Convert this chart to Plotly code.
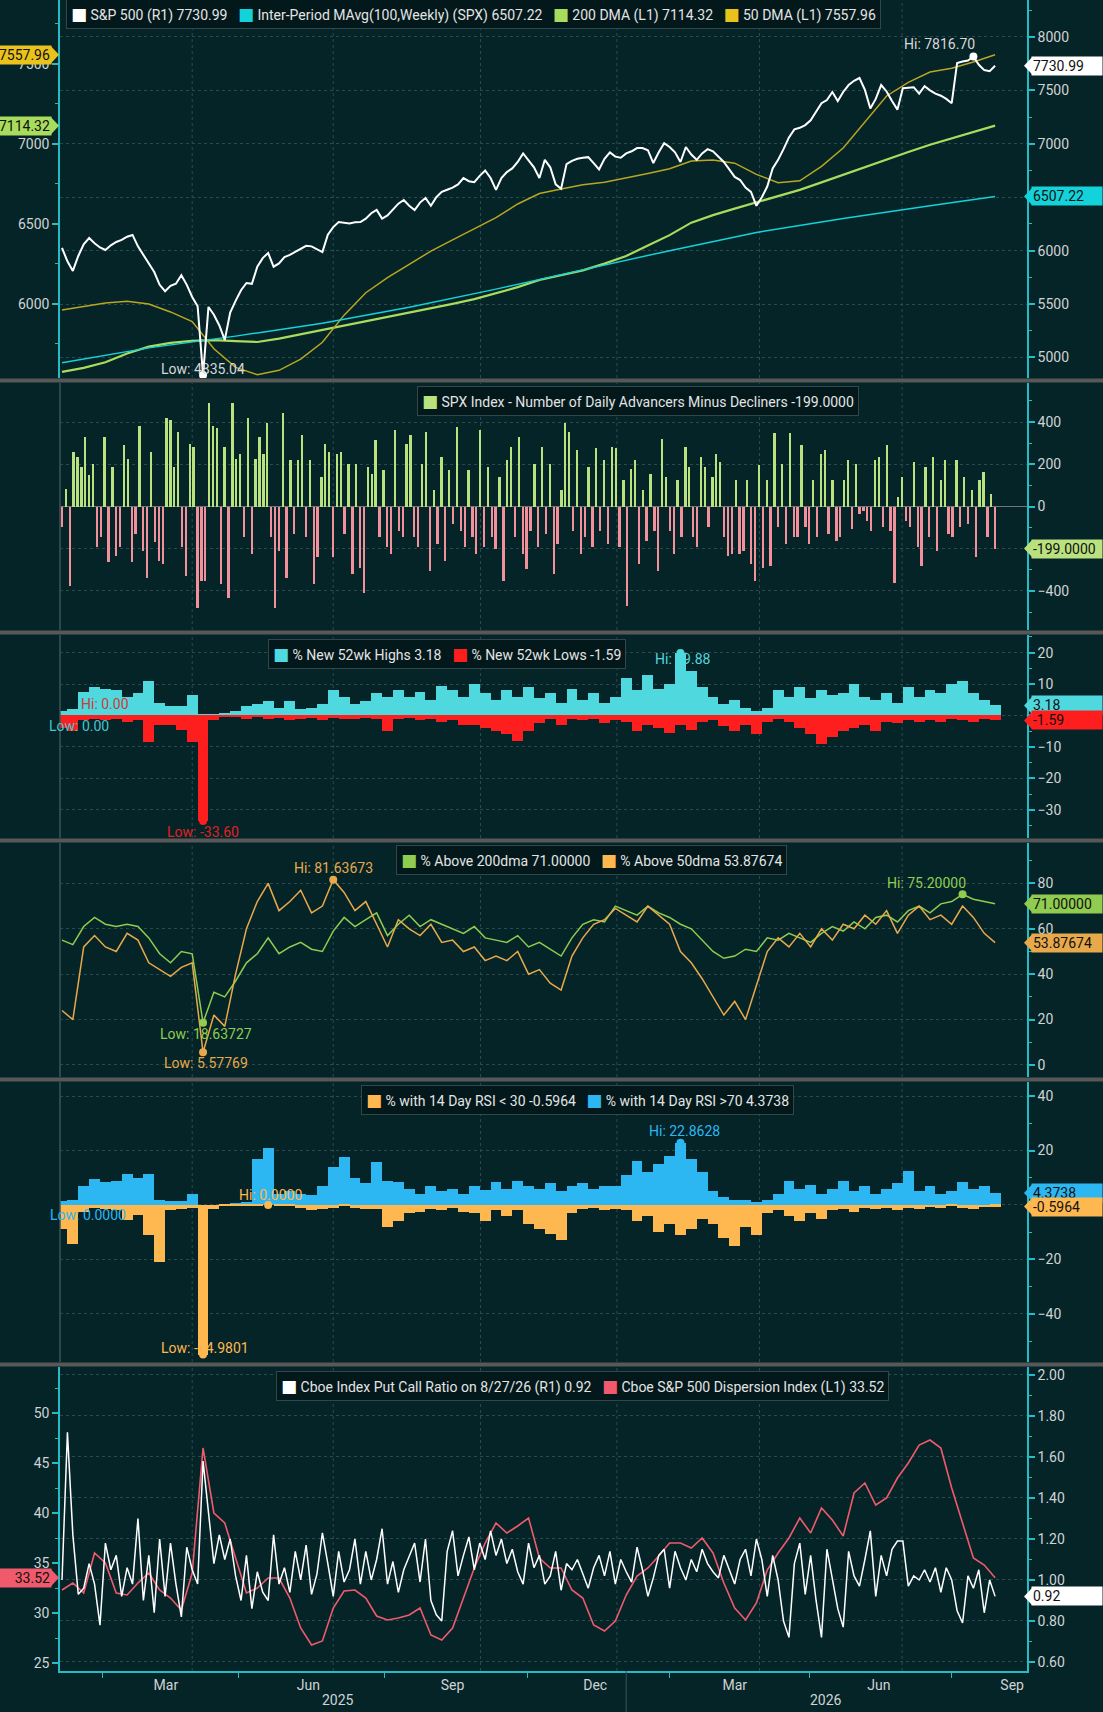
import plotly.graph_objects as go
import pandas as pd

# ---------------- data ----------------
WEEKS = pd.date_range("2025-01-02", periods=87, freq="7D")
HALF_WEEKS = pd.date_range("2025-01-02", "2026-08-27", periods=173)

SPX = [6025, 5900, 5810, 5950, 6060, 6118, 6070, 6030, 6006, 6050,
       6081, 6100, 6130, 6147, 6040, 5960, 5880, 5800, 5680, 5620,
       5670, 5690, 5770, 5680, 5566, 5480, 4835.04, 5473, 5400, 5300,
       5164, 5420, 5530, 5630, 5697, 5690, 5850, 5930, 5978, 5850,
       5880, 5940, 5960, 5990, 6015, 6045, 6040, 6010, 5987, 6150,
       6220, 6268, 6262, 6255, 6265, 6268, 6300, 6350, 6381, 6300,
       6330, 6390, 6440, 6474, 6420, 6380, 6450, 6493, 6420, 6500,
       6550, 6570, 6590, 6620, 6680, 6650, 6640, 6700, 6750, 6680,
       6568, 6680, 6735, 6770, 6830, 6910, 6850, 6780, 6680, 6850,
       6780, 6620, 6580, 6810, 6840, 6860, 6870, 6875, 6820, 6760,
       6860, 6920, 6880, 6870, 6910, 6930, 6960, 6960, 6940, 6820,
       6920, 7005, 6970, 6920, 6830, 6970, 6900, 6850, 6910, 6950,
       6930, 6880, 6830, 6760, 6690, 6661, 6590, 6550, 6420, 6500,
       6600, 6770, 6850, 6950, 7060, 7135, 7150, 7175, 7220, 7300,
       7380, 7410, 7485, 7400, 7485, 7550, 7590, 7616, 7504, 7330,
       7420, 7550, 7490, 7400, 7320, 7520, 7525, 7530, 7470, 7540,
       7500, 7470, 7450, 7420, 7380, 7757, 7770, 7780, 7816.70, 7740,
       7690, 7680, 7730.99]

MA100_DATES = ["2025-01-02", "2025-02-27", "2025-04-24", "2025-06-19", "2025-08-14", "2025-10-09",
               "2025-12-04", "2026-01-29", "2026-03-26", "2026-05-21", "2026-07-16", "2026-08-27"]
MA100 = [4950, 5090, 5200, 5320, 5470, 5640, 5820, 6000, 6170, 6300, 6420, 6507.22]

DMA50 = [5962, 5985, 6006, 6017, 6000, 5950, 5890, 5720, 5603, 5558,
         5585, 5655, 5760, 5930, 6070, 6165, 6245, 6330, 6400, 6468,
         6540, 6625, 6690, 6718, 6745, 6760, 6786, 6815, 6845, 6893,
         6900, 6880, 6810, 6758, 6770, 6860, 6975, 7140, 7300, 7385,
         7450, 7474, 7512, 7557.96]
DMA200 = [5575, 5600, 5635, 5690, 5733, 5757, 5770, 5774, 5767, 5762,
          5783, 5810, 5835, 5862, 5890, 5919, 5945, 5972, 6000, 6030,
          6066, 6105, 6150, 6180, 6210, 6252, 6300, 6365, 6430, 6508,
          6555, 6596, 6636, 6673, 6713, 6760, 6808, 6856, 6905, 6950,
          6995, 7035, 7075, 7114.32]

ADV_DEC = [-98, 84, -376, 259, 235, 187, 330, 148, 203, -194, -146, 330, -265, 187, -233, -194, 290, 227, -265,
           -130, 381, -210, -337, 259, -170, -257, -273, 417, 410, 187, 354, -194, -329, 298, 283, -479, -352, -352,
           489, 381, 370, -368, 283, -432, 489, 227, 251, -146, 417, -225, 227, 330, 251, 397, -146, -479, -210,
           444, -337, 219, -130, 219, 338, -146, 219, -368, -241, 140, 298, 259, -241, 251, 259, -130, 203, -321,
           203, -289, -408, 187, 156, 314, -146, 171, -194, -225, 362, -114, -146, 298, 338, -146, -194, 203, 354,
           -305, 76, -178, 235, -257, 171, -83, 378, -114, -194, 171, -146, -225, 362, -194, 187, -146, -202, 140,
           -352, 219, 283, -146, 330, -225, -297, -114, 203, -194, 283, -130, 203, -321, -178, 76, 394, 354, -114,
           267, -225, -146, 187, -194, 275, -114, 219, -178, 283, 275, -194, 124,
           -471, 179, 219, -273, 76, -162, 156, -114, -305, 322, 140, -114, -225, 124, -146, 283, 187, -146, -194,
           235, 187, -98, 140, 251, 211, -146, -233, -225, 124, -225, -210, 124, -273, -352, 195, -289, 124, -281,
           346, -98, 203, -178, 346, -146, -146, 290, -98, -178, 124, -146, 251, 267, -130, 124, -162, -146, 124,
           219, -106, 203, -35, -19, -67, -114, 219, 235, -98, 290, -114, -360, 44, 140, -67, -98, 211, -194, -281,
           187, -146, 235, -210, 124, 219, -130, -146, 219, -98, 140, -83, 76, -241, 124, 163, -146, 60, -199]

HIGHS = [1.5, 2.0, 7.5, 9.0, 8.5, 8.0, 6.0, 7.0, 11.0, 4.0,
         3.0, 3.0, 6.5, 0.5, 0.5, 0.8, 1.5, 3.0, 3.5, 4.5,
         2.5, 4.5, 2.0, 2.5, 3.5, 8.0, 6.0, 3.5, 4.5, 7.0,
         6.0, 8.0, 6.0, 7.5, 5.0, 9.5, 8.0, 6.0, 10.0, 7.0,
         5.0, 8.0, 6.0, 9.0, 5.5, 7.0, 4.0, 8.5, 5.0, 7.0,
         4.0, 6.0, 12.0, 8.0, 13.0, 8.5, 10.0, 19.88, 14.0, 9.0,
         6.0, 3.5, 5.0, 2.5, 1.5, 2.5, 8.0, 6.0, 9.0, 5.5,
         8.0, 6.5, 7.0, 10.0, 6.0, 5.0, 7.0, 4.0, 9.0, 6.0,
         8.0, 7.0, 10.0, 11.0, 7.0, 5.0, 3.18]
LOWS = [-4.0, -5.0, -1.5, -1.0, -1.5, -1.0, -2.0, -1.5, -8.5, -3.0,
        -3.0, -4.5, -8.5, -33.60, -1.5, -0.5, -0.5, -1.0, -0.5, -1.0,
        -0.8, -1.5, -1.0, -0.8, -1.5, -0.8, -1.0, -1.2, -0.8, -1.0,
        -4.8, -1.0, -0.8, -1.5, -1.0, -2.0, -1.5, -3.0, -3.0, -4.0,
        -5.0, -6.0, -8.0, -5.0, -2.5, -1.0, -3.0, -1.0, -1.5, -1.0,
        -2.5, -1.5, -2.0, -5.0, -3.0, -4.0, -5.5, -3.0, -4.5, -2.0,
        -1.5, -3.5, -5.0, -3.0, -6.0, -2.0, -1.0, -2.0, -4.0, -6.0,
        -9.0, -7.0, -5.0, -4.0, -3.0, -5.0, -2.0, -2.5, -1.5, -2.0,
        -1.5, -2.0, -1.0, -1.5, -2.0, -1.0, -1.59]

PCT200 = [55, 53, 61, 65, 62, 61, 62, 61, 56, 49,
          45, 50, 49, 18.63727, 32, 30, 37, 45, 49, 56,
          49, 52, 54, 51, 50, 59, 65, 61, 64, 67,
          57, 62, 66, 61, 64, 62, 60, 58, 61, 56,
          55, 54, 57, 52, 54, 51, 48, 56, 62, 64,
          63, 70, 68, 66, 70, 67, 65, 62, 60, 55,
          50, 47, 48, 51, 50, 56, 55, 58, 56, 54,
          58, 61, 59, 63, 60, 65, 66, 63, 68, 70,
          67, 71, 72, 75.2, 73, 72, 71.0]
PCT50 = [24, 20, 52, 57, 52, 50, 58, 55, 45, 42,
         39, 43, 45, 5.57769, 22, 17, 40, 60, 72, 80,
         68, 72, 77, 67, 70, 81.63673, 76, 68, 72, 62,
         52, 64, 60, 57, 62, 54, 55, 50, 52, 46,
         48, 46, 50, 40, 42, 36, 33, 48, 56, 62,
         64, 69, 66, 63, 70, 66, 62, 50, 45, 38,
         30, 22, 28, 20, 35, 50, 56, 52, 58, 52,
         60, 55, 62, 60, 66, 62, 68, 58, 66, 70,
         64, 66, 62, 70, 65, 58, 53.87674]

RSI70 = [1.5, 2.0, 7.0, 9.5, 8.5, 9.0, 11.5, 10.0, 11.5, 2.0,
         1.5, 1.5, 4.0, 0.0, 0.0, 0.2, 0.5, 1.0, 17.0, 20.8,
         4.0, 5.0, 4.0, 3.5, 7.0, 14.0, 17.5, 10.0, 8.0, 15.9,
         9.0, 8.5, 6.0, 4.0, 7.0, 5.0, 6.0, 4.0, 7.0, 5.5,
         8.5, 6.0, 9.0, 7.0, 6.0, 8.0, 5.0, 7.0, 8.0, 6.0,
         7.0, 7.0, 11.0, 16.0, 12.0, 15.0, 18.0, 22.8628, 17.0, 12.0,
         5.0, 3.0, 2.0, 2.0, 1.0, 2.0, 4.0, 9.0, 6.0, 7.5,
         4.0, 6.0, 9.0, 5.0, 7.0, 4.0, 6.0, 8.0, 12.5, 5.0,
         7.0, 4.0, 5.0, 8.5, 6.0, 7.0, 4.3738]
RSI30 = [-9.0, -14.5, -2.5, -1.0, -1.5, -2.0, -5.5, -3.5, -11.0, -20.8,
         -2.0, -1.5, -1.0, -54.9801, -1.5, -0.5, -0.3, -0.2, -0.1, 0.0,
         -0.3, -0.5, -1.0, -2.0, -1.5, -1.0, -0.5, -1.0, -1.5, -1.5,
         -8.0, -6.0, -3.0, -2.5, -1.5, -2.0, -1.0, -2.5, -3.0, -6.0,
         -2.0, -4.0, -2.0, -7.0, -9.0, -10.5, -13.0, -3.0, -1.5, -1.0,
         -2.0, -1.5, -2.0, -6.0, -4.0, -10.0, -7.0, -11.0, -9.0, -5.0,
         -7.0, -12.0, -15.0, -8.0, -11.0, -3.0, -2.0, -4.0, -6.0, -3.0,
         -5.0, -2.0, -1.5, -2.5, -1.0, -1.5, -1.0, -2.0, -1.0, -1.5,
         -0.8, -1.2, -0.5, -1.0, -1.5, -0.8, -0.5964]

PC = [1.00, 1.72, 1.22, 0.93, 0.96, 1.08, 0.98, 0.78, 1.18, 1.05,
      1.12, 0.92, 1.06, 0.98, 1.30, 0.90, 1.12, 0.84, 1.20, 0.92,
      1.18, 0.98, 0.82, 1.16, 1.05, 0.98, 1.58, 1.34, 1.08, 1.22,
      1.10, 1.20, 1.02, 0.90, 1.12, 0.86, 1.04, 0.94, 0.90, 1.22,
      0.98, 1.06, 0.94, 1.14, 1.00, 1.17, 0.93, 1.03, 1.23, 1.08,
      0.92, 1.14, 0.99, 1.05, 1.20, 0.98, 1.14, 1.00, 1.10, 1.25,
      0.98, 1.09, 0.94, 1.05, 1.12, 1.18, 0.99, 1.20, 0.90, 0.83,
      0.80, 1.14, 1.24, 1.02, 1.12, 1.21, 1.05, 1.18, 1.10, 1.24,
      1.12, 1.20, 1.08, 1.15, 1.04, 0.98, 1.18, 1.06, 1.12, 0.98,
      1.02, 1.14, 0.95, 1.08, 1.05, 1.10, 1.03, 0.96, 1.06, 1.12,
      1.02, 1.14, 0.98, 1.10, 1.04, 0.99, 1.16, 1.05, 0.92, 1.01,
      1.12, 1.15, 0.96, 1.14, 1.06, 1.00, 1.10, 1.04, 1.15, 1.08,
      1.04, 1.01, 1.12, 1.05, 0.98, 1.10, 1.15, 1.02, 1.20, 1.10,
      0.92, 1.12, 1.00, 0.80, 0.72, 1.08, 1.18, 0.93, 1.12, 0.90,
      0.72, 1.15, 1.00, 0.86, 0.77, 1.14, 1.02, 0.97, 1.10, 1.24,
      0.92, 1.12, 1.02, 1.15, 1.19, 1.19, 0.97, 1.02, 1.00, 1.05,
      0.99, 1.06, 0.94, 1.06, 1.00, 0.85, 0.79, 1.02, 0.96, 1.05,
      0.84, 1.00, 0.92]

DISP = [32.3, 33.0, 32.0, 36.0, 35.0, 32.0, 31.8, 33.0, 34.0, 32.3,
        31.5, 30.3, 34.0, 46.5, 40.0, 39.0, 35.5, 32.0, 32.5, 33.5,
        33.5, 31.5, 28.5, 26.8, 27.2, 30.5, 32.2, 32.3, 31.5, 29.7,
        29.3, 29.5, 29.8, 30.5, 27.8, 27.3, 28.5, 31.5, 34.5, 37.0,
        39.0, 38.0, 38.7, 39.5, 35.5, 34.5, 34.5, 32.3, 31.5, 28.8,
        28.2, 29.2, 31.8, 33.7, 34.5, 35.7, 37.0, 37.0, 36.5, 37.5,
        36.0, 33.0, 30.5, 29.3, 31.0, 34.3, 36.0, 37.5, 39.5, 38.0,
        40.5, 39.3, 37.7, 42.0, 43.0, 40.8, 41.5, 43.5, 45.0, 46.8,
        47.3, 46.5, 42.5, 39.0, 35.5, 34.8, 33.52]

MONTH_LABELS = ["Mar", "Jun", "Sep", "Dec", "Mar", "Jun", "Sep"]
MONTH_LABEL_DATES = ["2025-03-10", "2025-06-10", "2025-09-11", "2025-12-12",
                     "2026-03-12", "2026-06-13", "2026-09-07"]
YEAR_LABELS = ["2025", "2026"]
YEAR_LABEL_DATES = ["2025-06-29", "2026-05-10"]
GRID_DATES = ["2025-03-27", "2025-06-26", "2025-09-29", "2025-12-26", "2026-03-28", "2026-06-28"]
MINOR_TICK_DATES = ["2025-01-28", "2025-04-26", "2025-07-29", "2025-10-29",
                    "2026-01-29", "2026-04-29", "2026-07-30"]
X_RANGE = ["2024-12-31 17:00", "2026-09-16 14:00"]

# ---------------- style / layout helpers ----------------
W, H = 1103, 1712
ML, MR, MT, MB = 60, 76, 0, 41
PH = H - MT - MB
PW = W - ML - MR
BG = "#052428"
GRID = "#2b4a4f"
CYAN = "#27bcc4"
TXT = "#cfd3d4"
SEP = "#585858"
FONT = "Roboto, 'Noto Sans', 'DejaVu Sans', sans-serif"

C_SPX = "#ffffff"
C_MA100 = "#14d2da"
C_200 = "#a8dc5c"
C_50 = "#b9a622"
C_50TAG = "#e9c31c"
C_ADV = "#b9e27f"
C_DEC = "#f2919c"
C_HI = "#4fd8de"
C_LO = "#ff1e1e"
C_P200 = "#8fcc50"
C_P50 = "#e8a94b"
C_R70 = "#2cb7f2"
C_R30 = "#ffb84f"
C_PC = "#ffffff"
C_DISP = "#f05a6c"


def py(px):
    return (H - MB - px) / PH


def pxx(px):
    return (px - ML) / PW


PANELS = [(0, 378), (383, 630), (635, 838), (843, 1077), (1082, 1362), (1367, 1671)]
DOM = [[py(b), py(t)] for t, b in PANELS]

Y_DMA = [5537, 7900]
Y_SPX = [4808, 8346]
Y_AD = [-585, 585]
Y_HL = [-39.0, 25.6]
Y_PCT = [-5.3, 97.8]
Y_RSI = [-57.7, 45.2]
Y_DISP = [24.2, 54.6]
Y_PC = [0.556, 2.039]

fig = go.Figure()

# ---- panel 1 ----
fig.add_trace(go.Scatter(x=WEEKS[::2], y=DMA200, xaxis="x", yaxis="y", mode="lines",
                         line=dict(color=C_200, width=2.2)))
fig.add_trace(go.Scatter(x=WEEKS[::2], y=DMA50, xaxis="x", yaxis="y", mode="lines",
                         line=dict(color=C_50, width=1.5)))
fig.add_trace(go.Scatter(x=MA100_DATES, y=MA100, xaxis="x", yaxis="y2", mode="lines",
                         line=dict(color=C_MA100, width=1.5)))
fig.add_trace(go.Scatter(x=HALF_WEEKS, y=SPX, xaxis="x", yaxis="y2", mode="lines",
                         line=dict(color=C_SPX, width=2)))
i_hi = SPX.index(max(SPX))
i_lo = SPX.index(min(SPX))
fig.add_trace(go.Scatter(x=[HALF_WEEKS[i_hi], HALF_WEEKS[i_lo]], y=[SPX[i_hi], SPX[i_lo]], xaxis="x",
                         yaxis="y2", mode="markers", marker=dict(color="#ffffff", size=8)))

# ---- panel 2 ----
AD_DATES = pd.date_range("2025-01-02", "2026-08-27", periods=len(ADV_DEC))
fig.add_trace(go.Bar(x=AD_DATES, y=ADV_DEC, xaxis="x2", yaxis="y3",
                     marker=dict(color=[C_ADV if v >= 0 else C_DEC for v in ADV_DEC], line=dict(width=0)),
                     width=1.5 * 86400000))

# ---- panel 3 ----
WK = 7 * 86400000
fig.add_trace(go.Bar(x=WEEKS, y=HIGHS, xaxis="x3", yaxis="y4", width=WK,
                     marker=dict(color=C_HI, line=dict(width=0))))
fig.add_trace(go.Bar(x=WEEKS, y=LOWS, xaxis="x3", yaxis="y4", width=WK,
                     marker=dict(color=C_LO, line=dict(width=0))))
ih = HIGHS.index(max(HIGHS))
il = LOWS.index(min(LOWS))
fig.add_trace(go.Scatter(x=[WEEKS[ih]], y=[HIGHS[ih]], xaxis="x3", yaxis="y4", mode="markers",
                         marker=dict(color=C_HI, size=8)))
fig.add_trace(go.Scatter(x=[WEEKS[il]], y=[LOWS[il]], xaxis="x3", yaxis="y4", mode="markers",
                         marker=dict(color=C_LO, size=8)))

# ---- panel 4 ----
fig.add_trace(go.Scatter(x=WEEKS, y=PCT200, xaxis="x4", yaxis="y5", mode="lines",
                         line=dict(color=C_P200, width=1.5)))
fig.add_trace(go.Scatter(x=WEEKS, y=PCT50, xaxis="x4", yaxis="y5", mode="lines",
                         line=dict(color=C_P50, width=1.5)))
a_hi = PCT200.index(max(PCT200)); a_lo = PCT200.index(min(PCT200))
b_hi = PCT50.index(max(PCT50)); b_lo = PCT50.index(min(PCT50))
fig.add_trace(go.Scatter(x=[WEEKS[a_hi], WEEKS[a_lo]], y=[PCT200[a_hi], PCT200[a_lo]], xaxis="x4", yaxis="y5",
                         mode="markers", marker=dict(color=C_P200, size=8)))
fig.add_trace(go.Scatter(x=[WEEKS[b_hi], WEEKS[b_lo]], y=[PCT50[b_hi], PCT50[b_lo]], xaxis="x4", yaxis="y5",
                         mode="markers", marker=dict(color=C_P50, size=8)))

# ---- panel 5 ----
fig.add_trace(go.Bar(x=WEEKS, y=RSI70, xaxis="x5", yaxis="y6", width=WK,
                     marker=dict(color=C_R70, line=dict(width=0))))
fig.add_trace(go.Bar(x=WEEKS, y=RSI30, xaxis="x5", yaxis="y6", width=WK,
                     marker=dict(color=C_R30, line=dict(width=0))))
r_hi = RSI70.index(max(RSI70))
s_hi = RSI30.index(max(RSI30)); s_lo = RSI30.index(min(RSI30))
fig.add_trace(go.Scatter(x=[WEEKS[r_hi]], y=[RSI70[r_hi]], xaxis="x5", yaxis="y6", mode="markers",
                         marker=dict(color=C_R70, size=8)))
fig.add_trace(go.Scatter(x=[WEEKS[s_hi], WEEKS[s_lo]], y=[RSI30[s_hi], RSI30[s_lo]], xaxis="x5", yaxis="y6",
                         mode="markers", marker=dict(color=C_R30, size=8)))

# ---- panel 6 ----
fig.add_trace(go.Scatter(x=WEEKS, y=DISP, xaxis="x6", yaxis="y7", mode="lines",
                         line=dict(color=C_DISP, width=1.6)))
fig.add_trace(go.Scatter(x=HALF_WEEKS, y=PC, xaxis="x6", yaxis="y8", mode="lines",
                         line=dict(color=C_PC, width=1.5)))

fig.update_traces(showlegend=False, hoverinfo="skip")

# ---------------- axes ----------------
tickfont = dict(family=FONT, size=14, color=TXT)


def xax(anchor, bottom=False):
    d = dict(type="date", range=X_RANGE, domain=[0, 1], anchor=anchor, showgrid=False, zeroline=False,
             showline=False, showticklabels=False, ticks="")
    if bottom:
        d.update(showline=True, linecolor=CYAN, linewidth=1.5, showticklabels=True,
                 tickmode="array", tickvals=MONTH_LABEL_DATES, ticktext=MONTH_LABELS,
                 tickfont=tickfont, ticks="",
                 minor=dict(tickmode="array", tickvals=MINOR_TICK_DATES, ticks="outside",
                            ticklen=5, tickcolor=CYAN, showgrid=False))
    return d


def yax(dom, anchor, rng, dtick, mdtick, side="right", grid=True, fmt=None, tickvals=None, overlay=None):
    d = dict(range=rng, anchor=anchor, side=side, showgrid=grid, gridcolor=GRID, griddash="dot",
             gridwidth=1, zeroline=False, showline=True, linecolor=CYAN, linewidth=1.5,
             ticks="outside", ticklen=6, tickwidth=2, tickcolor=CYAN, tickfont=tickfont,
             minor=dict(dtick=mdtick, ticks="outside", ticklen=3, tickwidth=1, tickcolor=CYAN, showgrid=False))
    if overlay:
        d["overlaying"] = overlay
    else:
        d["domain"] = dom
    if tickvals is not None:
        d.update(tickmode="array", tickvals=tickvals)
    else:
        d["dtick"] = dtick
    if fmt:
        d["tickformat"] = fmt
    return d


layout = dict(
    width=W, height=H, margin=dict(l=ML, r=MR, t=MT, b=MB),
    paper_bgcolor=BG, plot_bgcolor=BG, barmode="overlay", bargap=0,
    font=dict(family=FONT, color=TXT), showlegend=False,
    xaxis=xax("y"), xaxis2=xax("y3"), xaxis3=xax("y4"), xaxis4=xax("y5"), xaxis5=xax("y6"),
    xaxis6=xax("y7", bottom=True),
    yaxis=yax(DOM[0], "x", Y_DMA, 500, 250, side="left", grid=False, tickvals=[6000, 6500, 7000, 7500]),
    yaxis2=yax(None, "x", Y_SPX, 500, 250, overlay="y"),
    yaxis3=yax(DOM[1], "x2", Y_AD, 200, 100),
    yaxis4=yax(DOM[2], "x3", Y_HL, 10, 5),
    yaxis5=yax(DOM[3], "x4", Y_PCT, 20, 10),
    yaxis6=yax(DOM[4], "x5", Y_RSI, 20, 10),
    yaxis7=yax(DOM[5], "x6", Y_DISP, 5, 2.5, side="left", grid=False),
    yaxis8=yax(None, "x6", Y_PC, 0.2, 0.1, overlay="y7", fmt=".2f"),
)
layout["yaxis3"].update(zeroline=True, zerolinecolor="#6f7778", zerolinewidth=1)
fig.update_layout(**layout)

shapes = []
ann = []

# vertical dotted gridlines per panel
for (t, b) in PANELS:
    for gd in GRID_DATES:
        shapes.append(dict(type="line", xref="x6", yref="paper", x0=gd, x1=gd, y0=py(b), y1=py(t),
                           line=dict(color=GRID, width=1, dash="dot"), layer="below"))
# dim left borders for middle panels
for (t, b) in PANELS[1:5]:
    shapes.append(dict(type="line", xref="paper", yref="paper", x0=0, x1=0, y0=py(b), y1=py(t),
                       line=dict(color="#3b5558", width=1.5), layer="above"))
# separators
for i in range(5):
    y_top = PANELS[i][1] + 0.5
    y_bot = PANELS[i + 1][0] - 0.5
    shapes.append(dict(type="rect", xref="paper", yref="paper", x0=pxx(0) - 0.01, x1=pxx(W) + 0.01,
                       y0=py(y_bot), y1=py(y_top), fillcolor=SEP, line=dict(width=0), layer="above"))
# year separator below axis
shapes.append(dict(type="line", xref="x6", yref="paper", x0="2026-01-01", x1="2026-01-01",
                   y0=py(1671), y1=py(1712), line=dict(color="#3b5558", width=1)))

# ---- value tags ----
PANEL_OF = {"y": 0, "y2": 0, "y3": 1, "y4": 2, "y5": 3, "y6": 4, "y7": 5, "y8": 5}
RNG_OF = {"y": Y_DMA, "y2": Y_SPX, "y3": Y_AD, "y4": Y_HL, "y5": Y_PCT, "y6": Y_RSI, "y7": Y_DISP, "y8": Y_PC}


def tag(text, val, yref, bg, side="right", fg="#111111"):
    t, b = PANELS[PANEL_OF[yref]]
    r = RNG_OF[yref]
    half = 8.5 * (r[1] - r[0]) / (b - t)
    if side == "right":
        ann.append(dict(text=text, x=pxx(1031), xref="paper", y=val, yref=yref, xanchor="left",
                        yanchor="middle", showarrow=False, bgcolor=bg, borderpad=1, width=68, align="left",
                        font=dict(family=FONT, size=14, color=fg)))
        path = f"M {pxx(1024)},{val} L {pxx(1032)},{val + half} L {pxx(1032)},{val - half} Z"
    else:
        ann.append(dict(text=text, x=pxx(52), xref="paper", y=val, yref=yref, xanchor="right",
                        yanchor="middle", showarrow=False, bgcolor=bg, borderpad=1, width=50, align="right",
                        font=dict(family=FONT, size=14, color=fg)))
        path = f"M {pxx(59)},{val} L {pxx(51)},{val + half} L {pxx(51)},{val - half} Z"
    shapes.append(dict(type="path", xref="paper", yref=yref, path=path, fillcolor=bg,
                       line=dict(width=0), layer="above"))


tag(f"{SPX[-1]:.2f}", SPX[-1], "y2", "#ffffff")
tag(f"{MA100[-1]:.2f}", MA100[-1], "y2", C_MA100)
tag(f"{DMA50[-1]:.2f}", DMA50[-1], "y", C_50TAG, side="left")
tag(f"{DMA200[-1]:.2f}", DMA200[-1], "y", C_200, side="left")
tag(f"{ADV_DEC[-1]:.4f}", ADV_DEC[-1], "y3", C_ADV)
tag(f"{HIGHS[-1]:.2f}", HIGHS[-1], "y4", C_HI)
tag(f"{LOWS[-1]:.2f}", LOWS[-1], "y4", C_LO)
tag(f"{PCT200[-1]:.5f}", PCT200[-1], "y5", C_P200)
tag(f"{PCT50[-1]:.5f}", PCT50[-1], "y5", C_P50)
tag(f"{RSI70[-1]:.4f}", RSI70[-1], "y6", C_R70)
tag(f"{RSI30[-1]:.4f}", RSI30[-1], "y6", C_R30)
tag(f"{DISP[-1]:.2f}", DISP[-1], "y7", C_DISP, side="left")
tag(f"{PC[-1]:.2f}", PC[-1], "y8", "#ffffff")


# ---- hi / low notes ----
def note(text, x, y, xref, yref, color, xanchor="center", xshift=0, yshift=0):
    ann.append(dict(text=text, x=x, y=y, xref=xref, yref=yref, showarrow=False, xanchor=xanchor,
                    yanchor="middle", xshift=xshift, yshift=yshift,
                    font=dict(family=FONT, size=14, color=color)))


note(f"Hi: {SPX[i_hi]:.2f}", HALF_WEEKS[i_hi], SPX[i_hi], "x", "y2", "#d8d8d8", xanchor="right", xshift=4, yshift=13)
note(f"Low: {SPX[i_lo]:.2f}", HALF_WEEKS[i_lo], SPX[i_lo], "x", "y2", "#d8d8d8", yshift=6)
note(f"Hi: {HIGHS[ih]:.2f}", WEEKS[ih], HIGHS[ih], "x3", "y4", C_HI, xshift=3, yshift=-6)
note(f"Low: {LOWS[il]:.2f}", WEEKS[il], LOWS[il], "x3", "y4", "#e02020", yshift=-11)
note("Hi: 0.00", WEEKS[4], 0, "x3", "y4", "#d03a3a", yshift=11)
note("Low: 0.00", WEEKS[1], 0, "x3", "y4", "#46c4cc", xshift=6, yshift=-11)
note(f"Hi: {PCT50[b_hi]:.5f}", WEEKS[b_hi], PCT50[b_hi], "x4", "y5", C_P50, yshift=12)
note(f"Low: {PCT200[a_lo]:.5f}", WEEKS[a_lo], PCT200[a_lo], "x4", "y5", C_P200, xshift=3, yshift=-11)
note(f"Low: {PCT50[b_lo]:.5f}", WEEKS[b_lo], PCT50[b_lo], "x4", "y5", C_P50, xshift=3, yshift=-11)
note(f"Hi: {PCT200[a_hi]:.5f}", WEEKS[a_hi], PCT200[a_hi], "x4", "y5", C_P200, xanchor="right", xshift=5, yshift=11)
note(f"Hi: {RSI70[r_hi]:.4f}", WEEKS[r_hi], RSI70[r_hi], "x5", "y6", C_R70, xshift=4, yshift=12)
note(f"Hi: {RSI30[s_hi]:.4f}", WEEKS[s_hi], RSI30[s_hi], "x5", "y6", C_R30, xshift=2, yshift=10)
note("Low: 0.0000", WEEKS[2], 0, "x5", "y6", C_R70, xshift=4, yshift=-10)
note(f"Low: {RSI30[s_lo]:.4f}", WEEKS[s_lo], RSI30[s_lo], "x5", "y6", C_R30, xshift=2, yshift=7)

# ---- year labels ----
for lab, d in zip(YEAR_LABELS, YEAR_LABEL_DATES):
    ann.append(dict(text=lab, x=d, xref="x6", y=py(1700), yref="paper", showarrow=False,
                    xanchor="center", yanchor="middle", font=dict(family=FONT, size=14, color=TXT)))

# ---- legend boxes ----
NB = "\u00a0"


def sq(c):
    return f'<span style="color:{c};font-size:17px">\u25a0</span>'


def box(text, cx, cy, anchor="center"):
    ann.append(dict(text=text, x=pxx(cx), xref="paper", y=py(cy), yref="paper", showarrow=False,
                    xanchor=anchor, yanchor="middle", bgcolor="#03181b", bordercolor="#32474a",
                    borderwidth=1, borderpad=4, font=dict(family=FONT, size=14, color="#e4e4e4")))


gap = NB * 3
box(f"{sq('#ffffff')} S&P 500 (R1) {SPX[-1]:.2f}{gap}{sq(C_MA100)} Inter-Period MAvg(100,Weekly) (SPX) "
    f"{MA100[-1]:.2f}{gap}{sq(C_200)} 200 DMA (L1) {DMA200[-1]:.2f}{gap}{sq(C_50TAG)} 50 DMA (L1) "
    f"{DMA50[-1]:.2f}", 66, 14, anchor="left")
box(f"{sq(C_ADV)} SPX Index - Number of Daily Advancers Minus Decliners {ADV_DEC[-1]:.4f}", 638, 401)
box(f"{sq(C_HI)} % New 52wk Highs {HIGHS[-1]:.2f}{gap}{sq(C_LO)} % New 52wk Lows {LOWS[-1]:.2f}", 447, 654)
box(f"{sq(C_P200)} % Above 200dma {PCT200[-1]:.5f}{gap}{sq(C_R30)} % Above 50dma {PCT50[-1]:.5f}", 591, 860)
box(f"{sq(C_R30)} % with 14 Day RSI < 30 {RSI30[-1]:.4f}{gap}{sq(C_R70)} % with 14 Day RSI >70 "
    f"{RSI70[-1]:.4f}", 577, 1100)
box(f"{sq('#ffffff')} Cboe Index Put Call Ratio on 8/27/26 (R1) {PC[-1]:.2f}{gap}{sq(C_DISP)} "
    f"Cboe S&P 500 Dispersion Index (L1) {DISP[-1]:.2f}", 582, 1386)

fig.update_layout(shapes=shapes, annotations=ann)
fig.write_html("out.html", config={"displayModeBar": False},
               post_script="document.body.style.margin='0px';document.body.style.overflow='hidden';")
